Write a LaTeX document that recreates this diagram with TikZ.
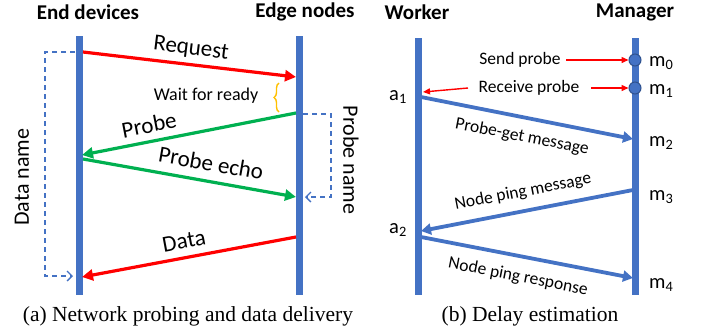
\documentclass[tikz,border=0pt]{standalone}
\usepackage{fontspec}
\setmainfont{Carlito}
\newfontfamily\capfont{Liberation Serif}
\usetikzlibrary{arrows.meta,decorations.pathreplacing}
\definecolor{lblue}{HTML}{4472C4}
\definecolor{dblue}{HTML}{2F528F}
\definecolor{ored}{HTML}{FF0000}
\definecolor{ogreen}{HTML}{00B050}
\definecolor{oorange}{HTML}{FFC000}
\begin{document}
\begin{tikzpicture}[x=1pt,y=-1pt,
  title/.style={font=\fontsize{21}{23}\selectfont\bfseries, inner sep=0pt},
  lbl/.style={font=\fontsize{23}{25}\selectfont, inner sep=0pt},
  vlbl/.style={font=\fontsize{22}{24}\selectfont, inner sep=0pt},
  slbl/.style={font=\fontsize{17.5}{19}\selectfont, inner sep=0pt},
  mlbl/.style={font=\fontsize{20.5}{22}\selectfont, inner sep=0pt},
  captext/.style={font=\capfont\fontsize{21.5}{23}\selectfont, inner sep=0pt},
  life/.style={line width=7pt, draw=lblue},
  redmsg/.style={line width=3.2pt, draw=ored, -{Triangle[length=11pt,width=11pt]}},
  greenmsg/.style={line width=3.2pt, draw=ogreen, -{Triangle[length=11pt,width=11pt]}},
  bluemsg/.style={line width=3.8pt, draw=lblue, -{Triangle[length=10pt,width=11pt]}},
  thinred/.style={line width=1.4pt, draw=ored, -{Triangle[length=7pt,width=6pt]}},
  dashloop/.style={line width=1.3pt, draw=lblue, dash pattern=on 5pt off 4pt, -{Straight Barb[length=5pt,width=10pt]}},
  dot/.style={circle, fill=lblue, draw=dblue, line width=1pt, minimum size=12pt, inner sep=0pt}
]
\useasboundingbox (0,0) rectangle (705,335);

% ---------- Panel (a) ----------
\node[title] (ed) at (88,12) {End devices};
\node[title] (en) at (305,12) {Edge nodes};

\coordinate (ltop) at (79,36);
\coordinate (lbot) at (79,295);
\coordinate (rtop) at (299,36);
\coordinate (rbot) at (299,295);
\draw[life] (ltop) -- (lbot);
\draw[life] (rtop) -- (rbot);

\coordinate (req1) at (83,52);
\coordinate (req2) at (296,77);
\draw[redmsg] (req1) -- (req2);
\node[lbl, rotate=-7] (reqt) at (191,49) {Request};

\node[font=\fontsize{18}{20}\selectfont, inner sep=0pt] (wait) at (206,96) {Wait for ready};
\coordinate (br1) at (279,112);
\coordinate (br2) at (279,83);
\draw[oorange, line width=1.4pt, decorate, decoration={brace, amplitude=5pt}] (br1) -- (br2);

\coordinate (pr1) at (296,113);
\coordinate (pr2) at (82,155);
\draw[greenmsg] (pr1) -- (pr2);
\node[lbl, rotate=11] (prt) at (149,125) {Probe};

\coordinate (pe1) at (83,159);
\coordinate (pe2) at (296,197);
\draw[greenmsg] (pe1) -- (pe2);
\node[lbl, rotate=-10] (pet) at (211,163) {Probe echo};

\coordinate (da1) at (296,237);
\coordinate (da2) at (82,277);
\draw[redmsg] (da1) -- (da2);
\node[lbl, rotate=10.5] (dat) at (184,241) {Data};

% dashed loops
\coordinate (dl1) at (75,52);
\coordinate (dl2) at (73,276);
\draw[dashloop] (dl1) -- (45,52) -- (45,276) -- (dl2);
\node[vlbl, rotate=90] (dname) at (22,177) {Data name};

\coordinate (pl1) at (303,114);
\coordinate (pl2) at (305,197);
\draw[dashloop] (pl1) -- (331,114) -- (331,197) -- (pl2);
\node[vlbl, rotate=-90] (pname) at (351,160) {Probe name};

\node[captext] (capa) at (188,316) {(a) Network probing and data delivery};

% ---------- Panel (b) ----------
\node[title] (wk) at (417,12) {Worker};
\node[title] (mg) at (635,12) {Manager};

\coordinate (wtop) at (418,38);
\coordinate (wbot) at (418,295);
\coordinate (mtop) at (635,38);
\coordinate (mbot) at (635,295);
\draw[life] (wtop) -- (wbot);
\draw[life] (mtop) -- (mbot);

\node[dot] (m0) at (635,60) {};
\node[dot] (m1) at (635,88) {};

\node[slbl] (sp) at (520,60) {Send probe};
\coordinate (spa) at (566,60);
\draw[thinred] (spa) -- (m0.west);
\node[slbl] (rp) at (529,88) {Receive probe};
\coordinate (rpa) at (591,88);
\draw[thinred] (rpa) -- (m1.west);
\coordinate (rpl) at (468,88);
\coordinate (a1p) at (423,92);
\draw[thinred] (rpl) -- (a1p);

\node[mlbl, anchor=west] (tm0) at (649,63) {m\textsubscript{0}};
\node[mlbl, anchor=west] (tm1) at (649,91) {m\textsubscript{1}};
\node[mlbl, anchor=west] (tm2) at (649,143) {m\textsubscript{2}};
\node[mlbl, anchor=west] (tm3) at (649,197) {m\textsubscript{3}};
\node[mlbl, anchor=west] (tm4) at (649,285) {m\textsubscript{4}};
\node[mlbl, anchor=east] (ta1) at (407,97) {a\textsubscript{1}};
\node[mlbl, anchor=east] (ta2) at (407,230) {a\textsubscript{2}};

\coordinate (pg1) at (421,97);
\coordinate (pg2) at (633,139);
\draw[bluemsg] (pg1) -- (pg2);
\node[slbl, rotate=-11] (pgt) at (522,137) {Probe-get message};

\coordinate (np1) at (633,190);
\coordinate (np2) at (421,231);
\draw[bluemsg] (np1) -- (np2);
\node[slbl, rotate=11] (npt) at (523,192) {Node ping message};

\coordinate (nr1) at (421,237);
\coordinate (nr2) at (633,278);
\draw[bluemsg] (nr1) -- (nr2);
\node[slbl, rotate=-11] (nrt) at (518,277) {Node ping response};

\node[captext] (capb) at (530,316) {(b) Delay estimation};
\end{tikzpicture}
\end{document}
